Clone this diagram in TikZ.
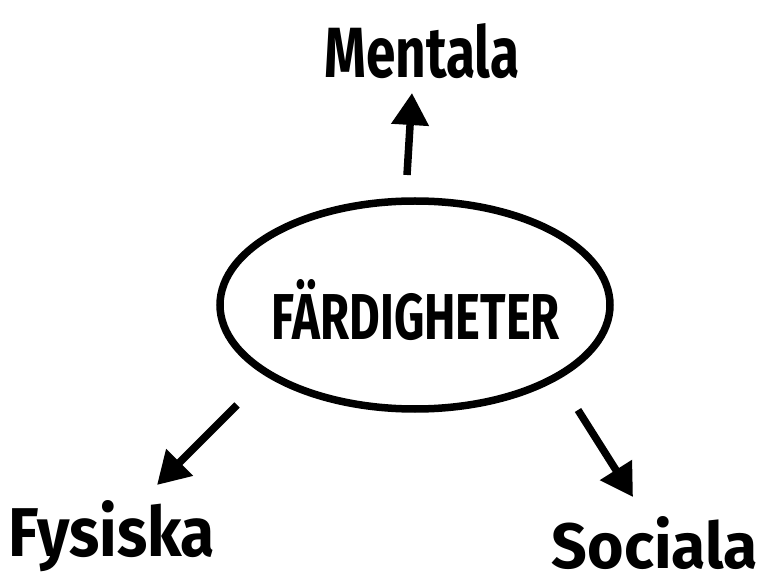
\documentclass[tikz,border=0pt]{standalone}
\usepackage{fontspec}
\setmainfont{Fira Sans}
\usetikzlibrary{arrows.meta,shapes.geometric}
\tikzset{
  arr/.style={line width=7.5pt,-{Triangle[length=32pt,width=36pt]}},
  lbl/.style={anchor=base,inner sep=0pt,font=\bfseries},
  oval/.style={ellipse,draw,line width=7.5pt,minimum width=390pt,minimum height=208pt,inner sep=0pt}
}
\begin{document}
\begin{tikzpicture}[x=1pt,y=1pt]
\useasboundingbox[fill=white] (0,0) rectangle (774,-585);
\node[oval] (ell) at (415,-305) {};
\node[lbl] (center) at (416,-340) {\resizebox{288pt}{60pt}{FÄRDIGHETER}};
\node[lbl] (ment) at (422,-78) {\resizebox{195pt}{54pt}{Mentala}};
\node[lbl] (fys) at (112,-556) {\resizebox{206pt}{56pt}{Fysiska}};
\node[lbl] (soc) at (655,-568) {\resizebox{206pt}{52pt}{Sociala}};
\coordinate (m1) at (407,-175);
\coordinate (m2) at (412,-93);
\coordinate (f1) at (237,-405);
\coordinate (f2) at (157,-485);
\coordinate (s1) at (578,-410);
\coordinate (s2) at (633,-497);
\draw[arr] (m1) -- (m2);
\draw[arr] (f1) -- (f2);
\draw[arr] (s1) -- (s2);
\end{tikzpicture}
\end{document}
